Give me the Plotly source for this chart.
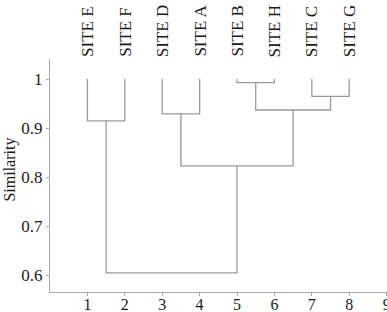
import plotly.graph_objects as go

# ---- data ----
labels = ["SITE E", "SITE F", "SITE D", "SITE A", "SITE B", "SITE H", "SITE C", "SITE G"]
leaf_pos = [1, 2, 3, 4, 5, 6, 7, 8]
leaf_sim = 1.0
# merges: (left node, right node, similarity); nodes 0-7 are leaves, 8+ are merges in order
merge_left = [0, 2, 4, 6, 10, 9, 8]
merge_right = [1, 3, 5, 7, 11, 12, 13]
merge_sim = [0.915, 0.929, 0.993, 0.965, 0.937, 0.823, 0.605]
x_ticks = [1, 2, 3, 4, 5, 6, 7, 8, 9]
y_ticks = [0.6, 0.7, 0.8, 0.9, 1.0]
y_ticktext = ["0.6", "0.7", "0.8", "0.9", "1"]

# ---- build dendrogram segments ----
node_x = list(leaf_pos)
node_y = [leaf_sim] * len(leaf_pos)
xs, ys = [], []
for l, r, h in zip(merge_left, merge_right, merge_sim):
    xl, yl = node_x[l], node_y[l]
    xr, yr = node_x[r], node_y[r]
    xs += [xl, xl, xr, xr, None]
    ys += [yl, h, h, yr, None]
    node_x.append((xl + xr) / 2)
    node_y.append(h)

FONT = "Liberation Serif, Times New Roman, serif"
LINE = "#9a9a9a"
TXT = "#1a1a1a"

fig = go.Figure()
fig.add_trace(go.Scatter(x=xs, y=ys, mode="lines",
                         line=dict(color=LINE, width=1.3),
                         hoverinfo="skip", showlegend=False))

for lab, xp in zip(labels, leaf_pos):
    fig.add_annotation(x=xp, y=1, xref="x", yref="paper", text=lab,
                       textangle=-90, showarrow=False,
                       xanchor="center", yanchor="bottom", yshift=0,
                       font=dict(family=FONT, size=17, color=TXT))

fig.add_annotation(x=-0.119, y=0.525, xref="paper", yref="paper", text="Similarity",
                   textangle=-90, showarrow=False, xanchor="center", yanchor="middle",
                   font=dict(family=FONT, size=16, color=TXT))

fig.update_layout(
    width=387, height=312,
    margin=dict(l=50, r=0, t=59, b=20, autoexpand=False),
    paper_bgcolor="white", plot_bgcolor="white",
    font=dict(family=FONT, size=17, color=TXT),
    xaxis=dict(range=[0, 9.01], tickvals=x_ticks, showgrid=False, zeroline=False,
               showline=True, linecolor="#aaa", linewidth=1.3,
               ticks="outside", ticklen=3, tickcolor="#aaa", automargin=False,
               ticklabeloverflow="allow", tickfont=dict(size=16),
               ticklabelstandoff=-5),
    yaxis=dict(range=[0.566, 1.041], tickvals=y_ticks, ticktext=y_ticktext,
               showgrid=False, zeroline=False, automargin=False,
               showline=True, linecolor="#aaa", linewidth=1.3,
               ticks="outside", ticklen=3, tickcolor="#aaa"),
)

fig.write_html("out.html")
